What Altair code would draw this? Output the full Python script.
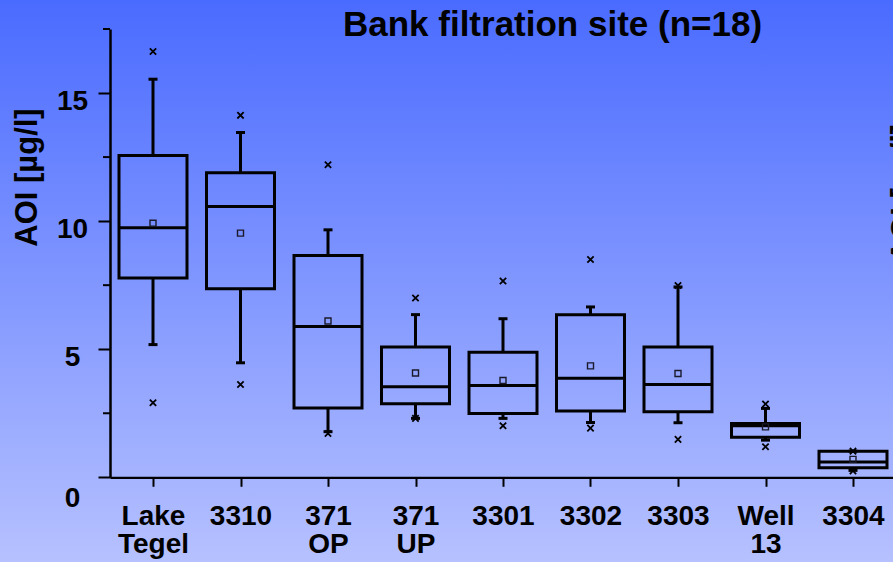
import altair as alt
import pandas as pd

# ---- data ----
sites = ["Lake Tegel", "3310", "371 OP", "371 UP", "3301", "3302", "3303", "Well 13", "3304"]
vmax = [16.62, 14.13, 12.20, 7.00, 7.66, 8.50, 7.49, 2.86, 1.02]
whi = [15.54, 13.46, 9.66, 6.35, 6.19, 6.65, 7.43, 2.69, 1.02]
q3 = [12.56, 11.89, 8.66, 5.09, 4.88, 6.35, 5.09, 2.10, 1.02]
med = [9.74, 10.57, 5.89, 3.53, 3.58, 3.87, 3.62, 2.01, 0.60]
mean = [9.92, 9.53, 6.10, 4.07, 3.78, 4.35, 4.05, 1.97, 0.70]
q1 = [7.78, 7.36, 2.71, 2.87, 2.49, 2.59, 2.56, 1.56, 0.37]
wlo = [5.18, 4.47, 1.78, 2.30, 2.30, 2.14, 2.13, 1.45, 0.27]
vmin = [2.91, 3.62, 1.71, 2.30, 2.01, 1.92, 1.48, 1.19, 0.25]
minor_ticks = [2.5, 7.5, 12.5, 17.5]
major_ticks = [0, 5, 10, 15]

df = pd.DataFrame({
    "i": list(range(len(sites))), "site": sites,
    "vmax": vmax, "whi": whi, "q3": q3, "med": med, "mean": mean,
    "q1": q1, "wlo": wlo, "vmin": vmin,
})

FONT = "Liberation Sans"
W, H = 783, 448.3
STEP = 87.5
x0 = -43 / STEP

label_arr = "[" + ",".join("'%s'" % s for s in sites) + "]"
xscale = alt.Scale(domain=[x0, x0 + W / STEP], nice=False, zero=False, padding=0)
yscale = alt.Scale(domain=[0, 17.5], nice=False, zero=False, padding=0)

xaxis = alt.Axis(
    values=list(range(len(sites))), labelExpr="split(" + label_arr + "[datum.value], ' ')",
    title=None, grid=False, domainColor="black", domainWidth=2.2, tickColor="black",
    tickWidth=2, tickSize=9, labelFont=FONT, labelFontSize=28, labelFontWeight="bold",
    labelColor="black", labelLineHeight=28, labelBaseline="top", labelPadding=16,
    labelFlush=False, labelOverlap=False, labelBound=False, zindex=1,
)
yaxis = alt.Axis(
    values=major_ticks, title="AOI [µg/l]", grid=False, domainColor="black", domainWidth=2.5,
    tickColor="black", tickWidth=2, tickSize=12, labelFont=FONT, labelFontSize=28,
    labelFontWeight="bold", labelColor="black", labelAlign="center", labelBaseline="middle",
    labelPadding=26,
    labelOffset={"condition": {"test": "datum.value == 0", "value": 21}, "value": 8},
    labelFlush=False, labelOverlap=False, zindex=1,
    titleFont=FONT, titleFontSize=31, titleFontWeight="bold", titleColor="black",
    titleAngle=270, titleX=-83, titleY=148, titleAlign="center", titleBaseline="middle",
)

gradient = alt.Gradient(
    gradient="linear", x1=0, x2=0, y1=0, y2=1,
    stops=[alt.GradientStop(color="#4a6bff", offset=0), alt.GradientStop(color="#b6c1ff", offset=1)],
)
bg = alt.Chart(alt.Data(values=[{}])).mark_rect(fill=gradient).encode(
    x=alt.value(-110), x2=alt.value(W), y=alt.value(-29), y2=alt.value(562 - 29)
)

base = alt.Chart(df).encode(x=alt.X("i:Q", scale=xscale, axis=xaxis))

whisk_up = base.mark_rule(color="black", strokeWidth=3).encode(
    y=alt.Y("q3:Q", scale=yscale, axis=yaxis), y2="whi:Q")
whisk_lo = base.mark_rule(color="black", strokeWidth=3).encode(y=alt.Y("wlo:Q"), y2="q1:Q")
cap_up = base.mark_tick(orient="horizontal", size=9, thickness=3, color="black", opacity=1).encode(y="whi:Q")
cap_lo = base.mark_tick(orient="horizontal", size=9, thickness=3, color="black", opacity=1).encode(y="wlo:Q")
box = base.mark_bar(size=68, fill="transparent", stroke="black", strokeWidth=3).encode(y="q1:Q", y2="q3:Q")
median = base.mark_tick(orient="horizontal", size=68, thickness=3, color="black", opacity=1).encode(y="med:Q")
mean_pt = base.mark_point(shape="square", size=36, filled=False, color="#1a1a2a", strokeWidth=1.4,
                          opacity=1).encode(y="mean:Q")
XSHAPE = "M-1,-1L1,1M-1,1L1,-1"
max_pt = base.mark_point(shape=XSHAPE, size=40, filled=False, color="black", strokeWidth=1.8,
                         opacity=1).encode(y="vmax:Q")
min_pt = base.mark_point(shape=XSHAPE, size=40, filled=False, color="black", strokeWidth=1.8,
                         opacity=1).encode(y="vmin:Q")

minor = alt.Chart(pd.DataFrame({"t": minor_ticks})).mark_rule(color="black", strokeWidth=2).encode(
    x=alt.value(-7), x2=alt.value(0), y=alt.Y("t:Q"))

title = alt.Chart(alt.Data(values=[{}])).mark_text(
    text="Bank filtration site (n=18)", font=FONT, fontSize=35, fontWeight="bold",
    color="black", align="center", baseline="alphabetic",
).encode(x=alt.value(442.5), y=alt.value(6.5))

edge = alt.Chart(alt.Data(values=[{}])).mark_text(
    text="AOI [µg/l]", font=FONT, fontSize=31, fontWeight="bold", color="black",
    align="center", baseline="middle", angle=270,
).encode(x=alt.value(794), y=alt.value(164))

chart = alt.layer(
    bg, minor, whisk_up, whisk_lo, cap_up, cap_lo, box, median, mean_pt, max_pt, min_pt, title, edge
).properties(
    width=W, height=H,
    autosize=alt.AutoSizeParams(type="none"),
    padding={"left": 110, "top": 29, "right": 0, "bottom": 562 - 29 - H},
    background="#4a6bff",
).configure_view(stroke=None)

chart.save("out.html", embed_options={"renderer": "svg", "actions": False})
